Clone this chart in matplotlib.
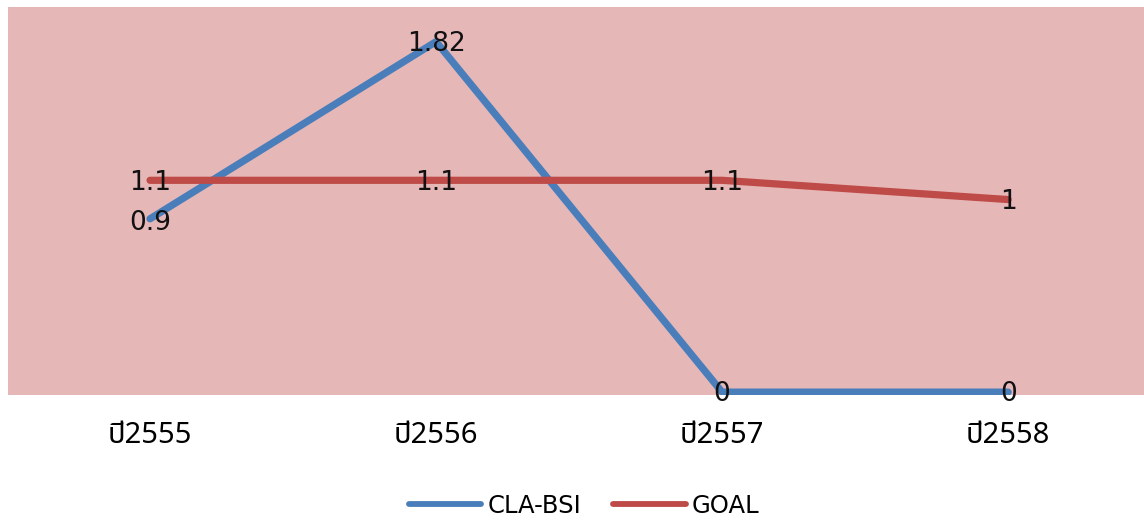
import matplotlib
matplotlib.use("Agg")
import matplotlib.pyplot as plt
from matplotlib import font_manager
from matplotlib.lines import Line2D

categories = ["ปี2555", "ปี2556", "ปี2557", "ปี2558"]
cla_bsi = [0.9, 1.82, 0, 0]
goal = [1.1, 1.1, 1.1, 1]
cla_labels = ["0.9", "1.82", "0", "0"]
goal_labels = ["1.1", "1.1", "1.1", "1"]

avail = {f.name for f in font_manager.fontManager.ttflist}
thai_candidates = ["Tahoma", "Noto Sans Thai", "Noto Sans Thai UI", "Loma", "Garuda",
                   "Norasi", "Kinnari", "Sawasdee", "Waree", "Umpush", "TlwgTypo",
                   "Laksaman", "Noto Serif Thai", "Sarabun", "Leelawadee UI"]
fams = [f for f in thai_candidates if f in avail] + ["DejaVu Sans"]
plt.rcParams["font.family"] = fams

blue = "#4A7EBB"
red = "#BE4B48"

fig = plt.figure(figsize=(11.44, 5.2), dpi=100)
ax = fig.add_axes([8 / 1144, 1 - 395 / 520, 1 - 8 / 1144, (395 - 7) / 520])
ax.set_facecolor("#E6B7B7")
for s in ax.spines.values():
    s.set_visible(False)

x = list(range(len(categories)))
ax.plot(x, cla_bsi, color=blue, lw=5.2, solid_capstyle="round", label="CLA-BSI")
ax.plot(x, goal, color=red, lw=5.2, solid_capstyle="round", label="GOAL")
ax.set_xlim(-0.4965, 3.475)
ax.set_ylim(-0.015, 2.0)
ax.set_yticks([])
ax.set_xticks(x)
ax.set_xticklabels(categories, fontsize=21)
ax.tick_params(axis="x", length=0, pad=19)

for xi, v, t in zip(x, cla_bsi, cla_labels):
    dy = -0.01 if v != 0.9 else -0.02
    ax.text(xi, v + dy, t, ha="center", va="center", fontsize=19, color="#111111",
            family="DejaVu Sans")
for xi, v, t in zip(x, goal, goal_labels):
    ax.text(xi, v - 0.015, t, ha="center", va="center", fontsize=19, color="#111111",
            family="DejaVu Sans")

handles = [Line2D([], [], color=blue, lw=4.2, solid_capstyle="round"),
           Line2D([], [], color=red, lw=4.2, solid_capstyle="round")]
fig.legend(handles=handles, labels=["CLA-BSI", "GOAL"], loc="center",
           bbox_to_anchor=(584 / 1144, 1 - 506 / 520),
           ncol=2, frameon=False, handlelength=3.0, columnspacing=1.3,
           handletextpad=0.25, prop={"family": "DejaVu Sans", "size": 17.5})
fig.savefig("out.png", dpi=100)
